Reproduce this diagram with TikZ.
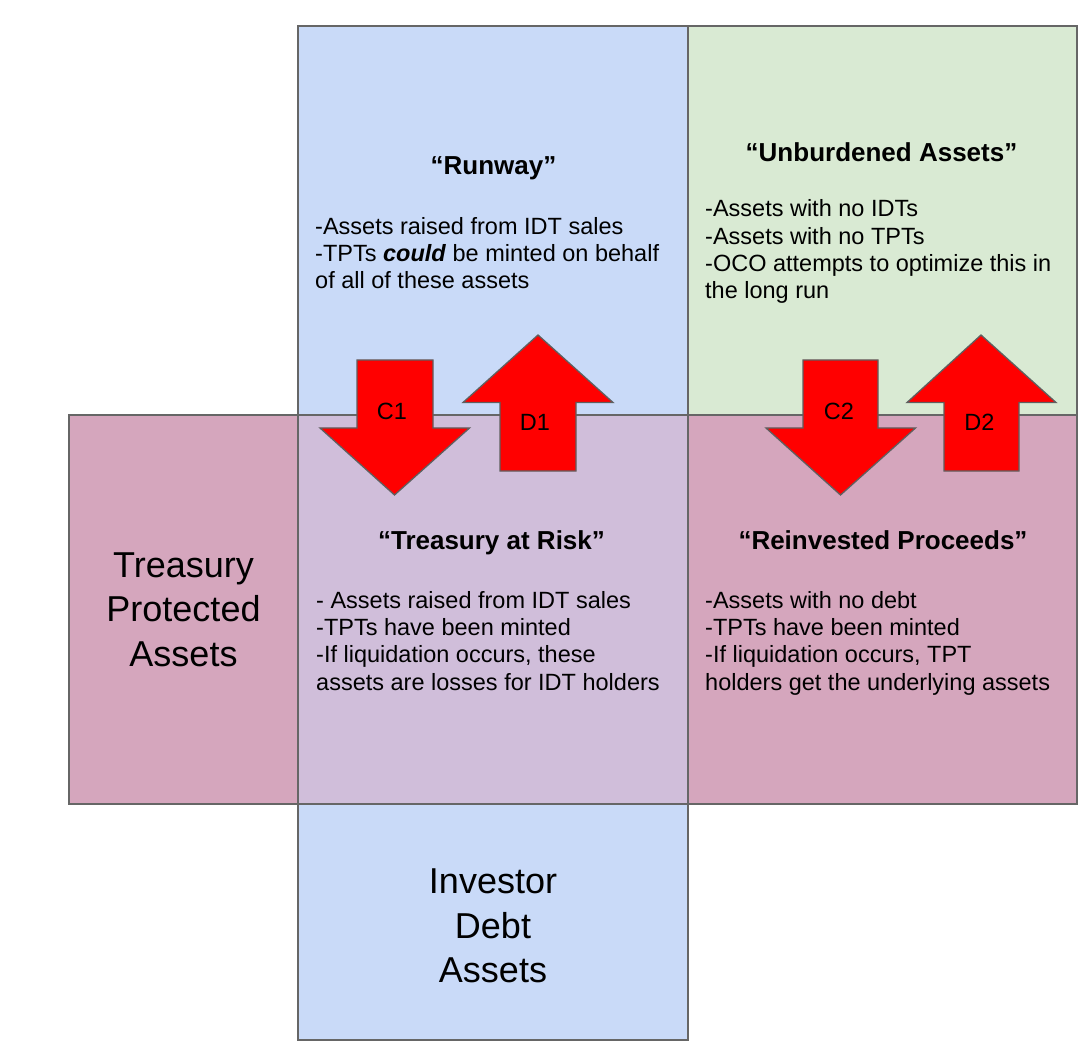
\documentclass[tikz,border=0pt]{standalone}
\usepackage{fontspec}
\setmainfont{Liberation Sans}
\usetikzlibrary{positioning}
\definecolor{runblue}{HTML}{C9DAF8}
\definecolor{freegreen}{HTML}{D9EAD3}
\definecolor{protpink}{HTML}{D5A6BD}
\definecolor{riskmauve}{HTML}{D0BEDA}
\definecolor{edgegray}{HTML}{666666}
\definecolor{arrowred}{HTML}{FF0000}
\definecolor{arrowedge}{HTML}{5F5F5F}
\tikzset{
  cell/.style={draw=edgegray,line width=1.6pt,inner sep=0pt,outer sep=0pt},
  bigtext/.style={font=\fontsize{36}{44.5}\selectfont,align=center},
  headtext/.style={font=\fontsize{26}{30}\selectfont\bfseries,anchor=base,inner sep=0pt},
  notetext/.style={font=\fontsize{23.5}{27.3}\selectfont,align=left,anchor=north west,inner sep=0pt},
  blockarrow/.style={fill=arrowred,draw=arrowedge,line width=1.3pt,line join=miter},
  arrowtag/.style={font=\fontsize{23.5}{27}\selectfont,anchor=base,inner sep=0pt}
}

\begin{document}
\begin{tikzpicture}[x=1pt,y=-1pt]
    \useasboundingbox (0,0) rectangle (1090,1048);
    % quadrants
    \node[cell,fill=runblue,minimum width=390pt,minimum height=389pt] (runway) at (493,220.5) {};
    \node[cell,fill=freegreen,minimum width=389pt,minimum height=389pt] (unburdened) at (882.5,220.5) {};
    \node[cell,fill=protpink,minimum width=229pt,minimum height=389pt,bigtext] (protected) at (183.5,609.5) {Treasury\\Protected\\Assets};
    \node[cell,fill=riskmauve,minimum width=390pt,minimum height=389pt] (atrisk) at (493,609.5) {};
    \node[cell,fill=protpink,minimum width=389pt,minimum height=389pt] (reinvested) at (882.5,609.5) {};
    \node[cell,fill=runblue,minimum width=390pt,minimum height=236pt] (investor) at (493,922) {};
    \node[bigtext] (investorlabel) at ([yshift=-4pt]investor.center) {Investor\\Debt\\Assets};
    % titles and notes
    \node[headtext] (runwayhead) at (493.5,175) {“Runway”};
    \node[notetext] (runwaynotes) at (315,217) {-Assets raised from IDT sales\\-TPTs \textbf{\textit{could}} be minted on behalf\\of all of these assets};
    \node[headtext] (unburdenedhead) at (881.5,162) {“Unburdened Assets”};
    \node[notetext] (unburdenednotes) at (705,199.5) {-Assets with no IDTs\\-Assets with no TPTs\\-OCO attempts to optimize this in\\the long run};
    \node[headtext] (atriskhead) at (491.5,549) {“Treasury at Risk”};
    \node[notetext] (atrisknotes) at (316,591) {- Assets raised from IDT sales\\-TPTs have been minted\\-If liquidation occurs, these\\assets are losses for IDT holders};
    \node[headtext] (reinvestedhead) at (883,549) {“Reinvested Proceeds”};
    \node[notetext] (reinvestednotes) at (705,591) {-Assets with no debt\\-TPTs have been minted\\-If liquidation occurs, TPT\\holders get the underlying assets};
    % block arrows
    \draw[blockarrow] (357,360) -- (433,360) -- (433,428) -- (469.5,428) -- (394.5,495) -- (320,428) -- (357,428) -- cycle;
    \draw[blockarrow] (538,335) -- (613,402.5) -- (576,402.5) -- (576,471) -- (500,471) -- (500,402.5) -- (463,402.5) -- cycle;
    \draw[blockarrow] (803,360) -- (878,360) -- (878,428) -- (915.5,428) -- (840.5,495) -- (766,428) -- (803,428) -- cycle;
    \draw[blockarrow] (981,335) -- (1056,402.5) -- (1019,402.5) -- (1019,471) -- (944,471) -- (944,402.5) -- (907,402.5) -- cycle;
    \node[arrowtag] (c1) at (392,419.5) {C1};
    \node[arrowtag] (d1) at (535,430.5) {D1};
    \node[arrowtag] (c2) at (839,420) {C2};
    \node[arrowtag] (d2) at (979.5,430.5) {D2};
\end{tikzpicture}
\end{document}
